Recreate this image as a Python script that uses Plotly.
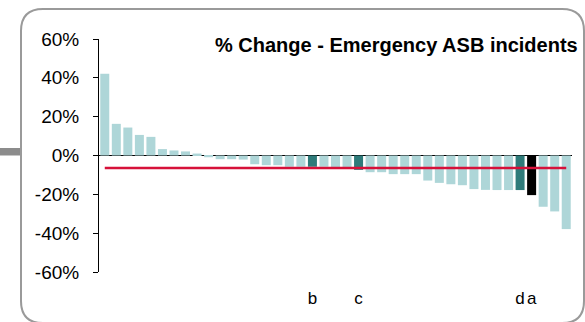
import plotly.graph_objects as go

# % change per area, sorted high to low
areas = [""] * 41
areas[18] = "b"
areas[22] = "c"
areas[36] = "d"
areas[37] = "a"

pct_change = [42.1, 16.3, 14.4, 10.6, 9.6, 3.3, 2.6, 2.1, 1.0, -0.9,
              -1.9, -1.9, -2.1, -4.5, -5.0, -5.0, -5.8, -5.8, -5.8, -5.8,
              -6.0, -6.0, -7.4, -8.6, -8.6, -9.6, -9.6, -9.6, -12.9, -14.1,
              -14.8, -15.3, -17.3, -17.7, -17.8, -17.8, -17.8, -20.4, -26.4, -28.8,
              -37.9]
average = -6.5

y_ticks = [-60, -40, -20, 0, 20, 40, 60]
y_tick_labels = ["-60%", "-40%", "-20%", "0%", "20%", "40%", "60%"]

LIGHT = "#AED6D8"
DARK = "#2E7B7A"
colors = []
for lab in areas:
    if lab == "a":
        colors.append("#000000")
    elif lab:
        colors.append(DARK)
    else:
        colors.append(LIGHT)

pos = list(range(len(areas)))

W, H = 585, 322
ML, MR, MT, MB = 99, 13, 39, 50
pw, ph = W - ML - MR, H - MT - MB


def px(x):
    return (x - ML) / pw


def py(y):
    return (H - MB - y) / ph


fig = go.Figure()
fig.add_trace(go.Bar(x=pos, y=pct_change, marker=dict(color=colors, line=dict(width=0)),
                     showlegend=False))
fig.add_trace(go.Scatter(x=[pos[0], pos[-1]], y=[average, average], mode="lines",
                         line=dict(color="#D6113A", width=2.5), showlegend=False))

# rounded frame
x0, x1, y0, y1, r = px(21), px(584), py(9), py(323), 22
rx, ry = r / pw, r / ph
path = (f"M {x0+rx} {y0} L {x1-rx} {y0} Q {x1} {y0} {x1} {y0-ry} "
        f"L {x1} {y1+ry} Q {x1} {y1} {x1-rx} {y1} L {x0+rx} {y1} "
        f"Q {x0} {y1} {x0} {y1+ry} L {x0} {y0-ry} Q {x0} {y0} {x0+rx} {y0} Z")
fig.add_shape(type="path", path=path, xref="paper", yref="paper",
              line=dict(color="#9A9A9A", width=2))
fig.add_shape(type="rect", xref="paper", yref="paper", x0=px(0), x1=px(20),
              y0=py(148), y1=py(155.5), fillcolor="#8C8C8C", line=dict(width=0))

fig.add_annotation(text="<b>% Change - Emergency ASB incidents</b>", xref="paper", yref="paper",
                   x=px(580), y=py(45), xanchor="right", yanchor="middle", showarrow=False,
                   font=dict(size=20, color="#000000"))

fig.update_layout(
    width=W, height=H,
    margin=dict(l=ML, r=MR, t=MT, b=MB),
    paper_bgcolor="white", plot_bgcolor="white",
    font=dict(family="Liberation Sans, Arial, sans-serif", color="#000000"),
    bargap=0.22,
    xaxis=dict(range=[-0.5, len(areas) - 0.5], tickvals=[i for i, a in enumerate(areas) if a],
               ticktext=[a for a in areas if a], showgrid=False, zeroline=False, showline=False,
               ticks="", tickangle=0, ticklabelstandoff=14, tickfont=dict(size=17)),
    yaxis=dict(range=[-60, 60], tickvals=y_ticks, ticktext=y_tick_labels, showgrid=False,
               zeroline=True, zerolinecolor="#000000", zerolinewidth=1,
               showline=True, linecolor="#000000", linewidth=1,
               ticks="outside", ticklen=5, tickcolor="#000000",
               ticklabelstandoff=10, tickfont=dict(size=19)),
)

fig.write_html("out.html", config={"displayModeBar": False},
               post_script="document.body.style.margin='0';")
